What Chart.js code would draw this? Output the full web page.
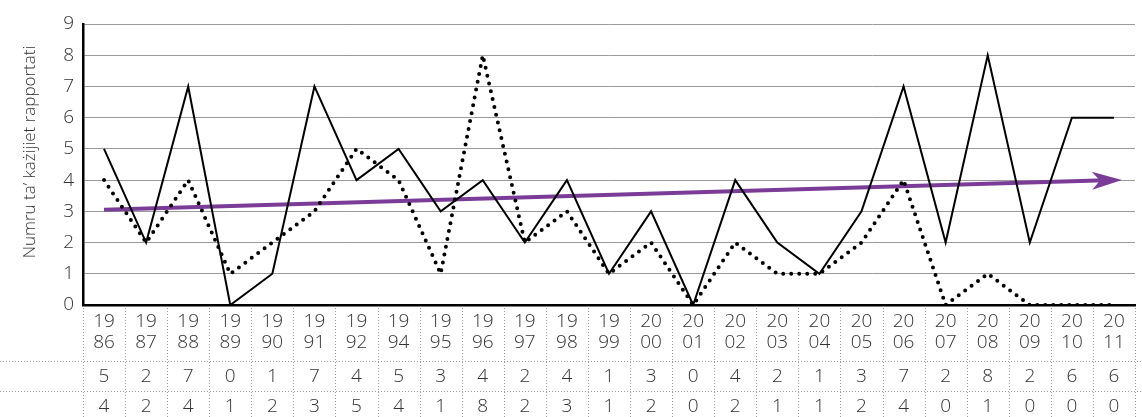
<!DOCTYPE html>
<html>
<head>
<meta charset="utf-8">
<script src="https://cdn.jsdelivr.net/npm/chart.js@4"></script>
<style>
  html, body { margin: 0; padding: 0; background: #fff; }
  #wrap { width: 1142px; height: 417px; position: relative; }
</style>
</head>
<body>
<div id="wrap"><canvas id="c" width="1142" height="417"></canvas></div>
<script>
// Years reported (1993 has no entry)
const years = ['1986','1987','1988','1989','1990','1991','1992','1994','1995','1996','1997','1998','1999','2000','2001','2002','2003','2004','2005','2006','2007','2008','2009','2010','2011'];
// Cases per year, first series (solid line, first table row)
const seriesSolid = [5,2,7,0,1,7,4,5,3,4,2,4,1,3,0,4,2,1,3,7,2,8,2,6,6];
// Cases per year, second series (dotted line, second table row)
const seriesDotted = [4,2,4,1,2,3,5,4,1,8,2,3,1,2,0,2,1,1,2,4,0,1,0,0,0];
// Trend arrow: start and end values
const trendStart = 3.05;
const trendEnd = 4.0;
const yTicks = [0,1,2,3,4,5,6,7,8,9];
const yTitle = 'Numru ta\u2019 ka\u017cijiet rapportati';

const trendData = years.map((_, i) => i === 0 ? trendStart : (i === years.length - 1 ? trendEnd : null));

const FONT = '"Open Sans", "Segoe UI", sans-serif';
const TEXT = '#333';
const TRENDCOL = '#7b3c98';

// Table under the x axis: split year labels and two value rows, plus the y title
const tablePlugin = {
  id: 'tablePlugin',
  afterDraw(chart) {
    const ctx = chart.ctx;
    const x = chart.scales.x;
    const area = chart.chartArea;
    const W = chart.width, H = chart.height;
    const n = years.length;
    const step = (area.right - area.left) / n;
    ctx.save();
    ctx.strokeStyle = '#9a9a9a';
    ctx.lineWidth = 1;
    ctx.setLineDash([1, 2]);
    // vertical separators
    for (let k = 0; k <= n; k++) {
      const px = Math.round(area.left + k * step) + 0.5;
      ctx.beginPath();
      ctx.moveTo(px, area.bottom + 3);
      ctx.lineTo(px, H);
      ctx.stroke();
    }
    // horizontal row separators
    [361.5, 391.5].forEach(py => {
      ctx.beginPath();
      ctx.moveTo(0, py);
      ctx.lineTo(W, py);
      ctx.stroke();
    });
    ctx.setLineDash([]);
    ctx.fillStyle = TEXT;
    ctx.font = '300 19px ' + FONT;
    ctx.textAlign = 'center';
    ctx.textBaseline = 'middle';
    years.forEach((yr, i) => {
      const cx = x.getPixelForValue(i);
      ctx.fillText(yr.slice(0, 2), cx, 322);
      ctx.fillText(yr.slice(2), cx, 343);
      ctx.fillText(String(seriesSolid[i]), cx, 377);
      ctx.fillText(String(seriesDotted[i]), cx, 407);
    });
    // rotated y-axis title
    ctx.translate(30, 152);
    ctx.rotate(-Math.PI / 2);
    ctx.font = '300 17px ' + FONT;
    ctx.fillText(yTitle, 0, 0);
    ctx.restore();
  }
};

// Arrowhead at the end of the trend line
const arrowPlugin = {
  id: 'arrowPlugin',
  afterDatasetsDraw(chart) {
    const meta = chart.getDatasetMeta(2);
    const pts = meta.data;
    const a = pts[0], b = pts[pts.length - 1];
    const ang = Math.atan2(b.y - a.y, b.x - a.x);
    const ctx = chart.ctx;
    const tipX = b.x + 8 * Math.cos(ang);
    const tipY = b.y + 8 * Math.sin(ang);
    const len = 30, half = 9, back = 8;
    ctx.save();
    ctx.translate(tipX, tipY);
    ctx.rotate(ang);
    ctx.fillStyle = TRENDCOL;
    ctx.beginPath();
    ctx.moveTo(0, 0);
    ctx.lineTo(-len, -half);
    ctx.lineTo(-len + back, 0);
    ctx.lineTo(-len, half);
    ctx.closePath();
    ctx.fill();
    ctx.restore();
  }
};

new Chart(document.getElementById('c'), {
  type: 'line',
  data: {
    labels: years,
    datasets: [
      {
        data: seriesSolid,
        borderColor: '#000',
        borderWidth: 2,
        pointRadius: 0,
        tension: 0,
        borderJoinStyle: 'miter'
      },
      {
        data: seriesDotted,
        borderColor: '#000',
        borderWidth: 4,
        borderDash: [0, 8],
        borderCapStyle: 'round',
        pointRadius: 0,
        tension: 0
      },
      {
        data: trendData,
        borderColor: TRENDCOL,
        borderWidth: 4,
        pointRadius: 0,
        spanGaps: true,
        tension: 0
      }
    ]
  },
  options: {
    responsive: false,
    animation: false,
    events: [],
    layout: { padding: { left: 0, right: 7, top: 24, bottom: 0 } },
    plugins: { legend: { display: false }, tooltip: { enabled: false } },
    scales: {
      x: {
        type: 'category',
        offset: true,
        grid: { display: false },
        ticks: { display: false },
        border: { display: true, color: '#000', width: 2.5 },
        afterFit(scale) { scale.height = 112; }
      },
      y: {
        min: 0,
        max: 9,
        afterBuildTicks(scale) { scale.ticks = yTicks.map(v => ({ value: v })); },
        ticks: { color: TEXT, font: { family: FONT, size: 19, weight: '300' }, padding: 9 },
        grid: { color: '#9a9a9a', lineWidth: 1, drawTicks: false, borderDash: [1, 2] },
        border: { display: true, color: '#000', width: 2.5, dash: [] },
        title: { display: false },
        afterFit(scale) { scale.width = 83; }
      }
    }
  },
  plugins: [tablePlugin, arrowPlugin]
});
</script>
</body>
</html>
